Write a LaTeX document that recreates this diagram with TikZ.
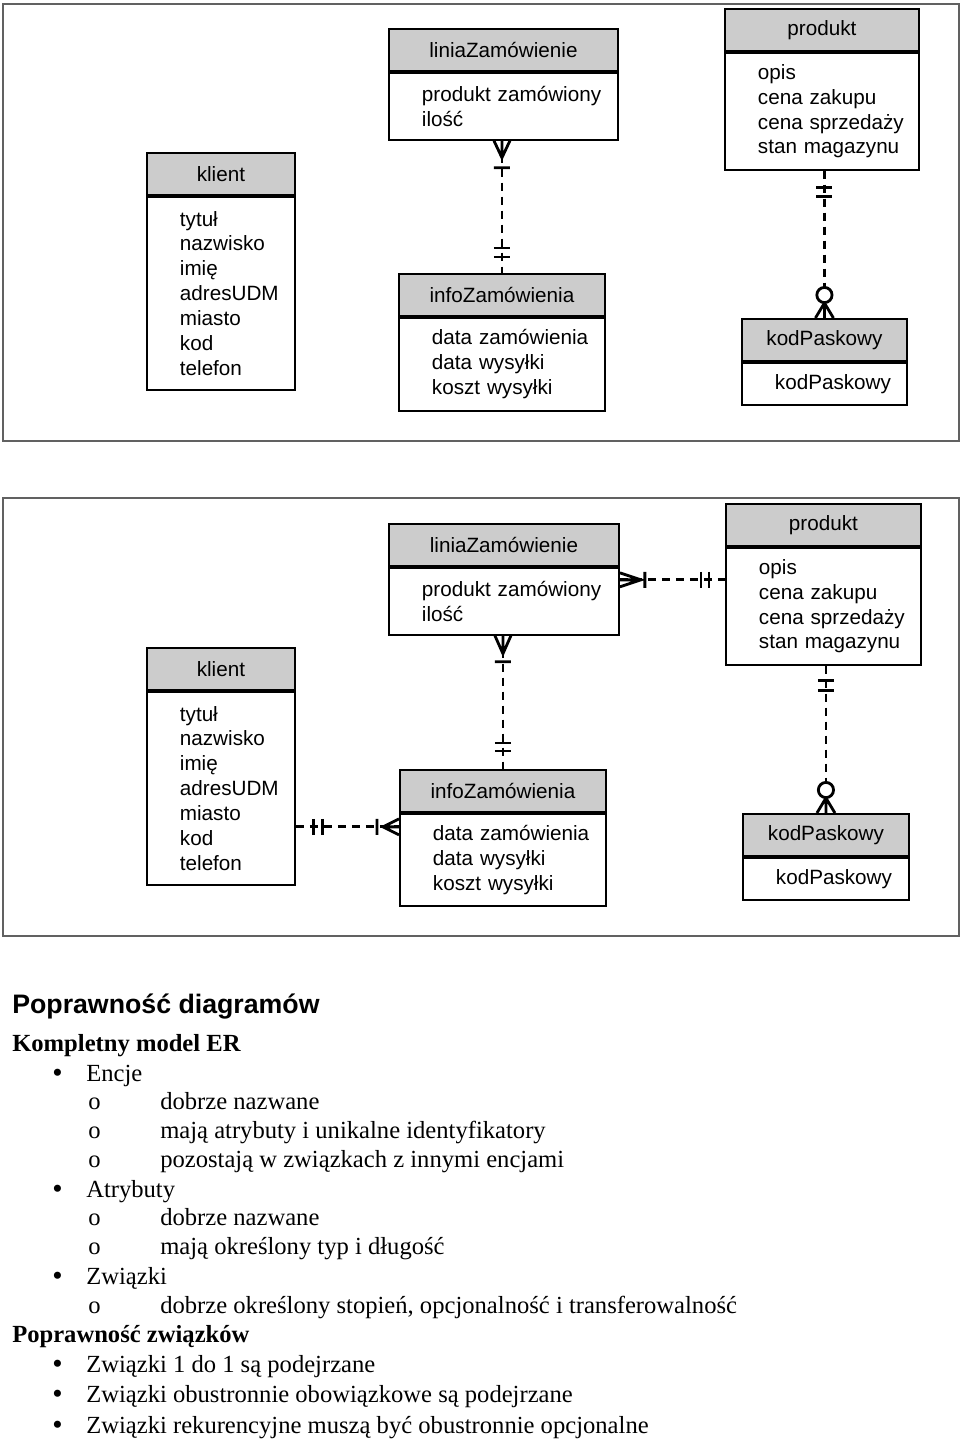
\documentclass[tikz,border=0pt]{standalone}
\usepackage{fontspec}
\setmainfont{Liberation Serif}
\setsansfont{Liberation Sans}
\usetikzlibrary{calc}

\definecolor{hdrgray}{gray}{0.8}
\definecolor{framegray}{gray}{0.38}
\newcommand{\entfont}{\sffamily\fontsize{14.7}{17.7}\selectfont\hyphenpenalty=10000 }
\newcommand{\listfont}{\fontsize{17.5}{21}\selectfont}

\tikzset{
  entityhead/.style={draw, line width=1.3pt, fill=hdrgray, anchor=north west, inner sep=0pt, minimum height=1.05cm, font=\entfont},
  entitybody/.style={draw, line width=1.3pt, anchor=north west, inner xsep=0.825cm, inner ysep=0pt, align=left, font=\entfont},
  relline/.style={line width=2pt, dash pattern=on 0.2cm off 0.15cm},
  relmark/.style={line width=2pt},
  framebox/.style={draw=framegray, line width=1.1pt},
  listtext/.style={anchor=base west, inner sep=0pt, font=\listfont},
  listbullet/.style={anchor=base west, inner sep=0pt, text height=0.45em, text depth=0pt, font=\fontsize{21}{21}\selectfont},
}

\begin{document}
\begin{tikzpicture}[x=0.025cm, y=-0.025cm]
\useasboundingbox (0,0) rectangle (960,1442);

% Frames
\draw[framebox] (3,4) rectangle (959,441);
\draw[framebox] (3,498) rectangle (959,936);

%%% Upper diagram

% Drawing entity klient
\node[entityhead, minimum width=3.7cm] (klient1-h) at (146,152) {klient};
\node[entitybody, text width=2.05cm, minimum height=4.825cm] (klient1-b) at (klient1-h.south west)
  {tytuł\\nazwisko\\imię\\adresUDM\\miasto\\kod\\telefon};

% Drawing entity liniaZamowienie
\node[entityhead, minimum width=5.725cm] (lini1-h) at (388,28) {liniaZamówienie};
\node[entitybody, text width=4.075cm, minimum height=1.675cm] (lini1-b) at (lini1-h.south west)
  {produkt~zamówiony\\ilość};

% Drawing entity infoZamowienia
\node[entityhead, minimum width=5.15cm] (info1-h) at (398,273) {infoZamówienia};
\node[entitybody, text width=3.5cm, minimum height=2.325cm] (info1-b) at (info1-h.south west)
  {data~zamówienia\\data~wysyłki\\koszt~wysyłki};

% Drawing entity produkt
\node[entityhead, minimum width=4.85cm] (prod1-h) at (724,8) {produkt};
\node[entitybody, text width=3.2cm, minimum height=2.925cm] (prod1-b) at (prod1-h.south west)
  {opis\\cena~zakupu\\cena~sprzedaży\\stan~magazynu};

% Drawing entity kodPaskowy
\node[entityhead, minimum width=4.125cm] (kod1-h) at (741,318) {kodPaskowy};
\node[entitybody, text width=2.475cm, minimum height=1.05cm] (kod1-b) at (kod1-h.south west)
  {kodPaskowy};

% Relationship liniaZamowienie - infoZamowienia
\draw[relline] (lini1-b.south -| info1-h.north) -- (info1-h.north);
\begin{scope}[shift={(lini1-b.south -| info1-h.north)}]
  \draw[relmark] (-8,0) -- (0,17) -- (8,0) (0,0) -- (0,17) (-8,27) -- (8,27);
\end{scope}
\begin{scope}[shift={(info1-h.north)}]
  \draw[relmark] (-8,-25) -- (8,-25) (-8,-16) -- (8,-16);
\end{scope}

% Relationship produkt - kodPaskowy
\draw[relline] (prod1-b.south -| kod1-h.north) -- (kod1-h.north);
\begin{scope}[shift={(prod1-b.south -| kod1-h.north)}]
  \draw[relmark] (-8,17) -- (8,17) (-8,26) -- (8,26);
\end{scope}
\begin{scope}[shift={(kod1-h.north)}]
  \draw[relmark] (-9,0) -- (0,-15) -- (9,0) (0,0) -- (0,-15);
  \draw[relmark, fill=white] (0,-23) circle (0.19cm);
\end{scope}

%%% Lower diagram

% Drawing entity klient
\node[entityhead, minimum width=3.7cm] (klient2-h) at (146,647) {klient};
\node[entitybody, text width=2.05cm, minimum height=4.825cm] (klient2-b) at (klient2-h.south west)
  {tytuł\\nazwisko\\imię\\adresUDM\\miasto\\kod\\telefon};

% Drawing entity liniaZamowienie
\node[entityhead, minimum width=5.75cm] (lini2-h) at (388,523) {liniaZamówienie};
\node[entitybody, text width=4.1cm, minimum height=1.675cm] (lini2-b) at (lini2-h.south west)
  {produkt~zamówiony\\ilość};

% Drawing entity infoZamowienia
\node[entityhead, minimum width=5.15cm] (info2-h) at (399,769) {infoZamówienia};
\node[entitybody, text width=3.5cm, minimum height=2.3cm] (info2-b) at (info2-h.south west)
  {data~zamówienia\\data~wysyłki\\koszt~wysyłki};

% Drawing entity produkt
\node[entityhead, minimum width=4.875cm] (prod2-h) at (725,503) {produkt};
\node[entitybody, text width=3.225cm, minimum height=2.925cm] (prod2-b) at (prod2-h.south west)
  {opis\\cena~zakupu\\cena~sprzedaży\\stan~magazynu};

% Drawing entity kodPaskowy
\node[entityhead, minimum width=4.15cm] (kod2-h) at (742,813) {kodPaskowy};
\node[entitybody, text width=2.5cm, minimum height=1.05cm] (kod2-b) at (kod2-h.south west)
  {kodPaskowy};

% Relationship liniaZamowienie - produkt
\coordinate (lp2) at ($(lini2-b.north east)+(0,13)$);
\draw[relline] (lp2) -- (lp2 -| prod2-b.west);
\begin{scope}[shift={(lp2)}]
  \draw[relmark] (0,-7) -- (21,0) -- (0,7) (0,0) -- (21,0) (25,-8) -- (25,8);
\end{scope}
\begin{scope}[shift={(lp2 -| prod2-b.west)}]
  \draw[relmark] (-24,-8) -- (-24,8) (-16,-8) -- (-16,8);
\end{scope}

% Relationship liniaZamowienie - infoZamowienia
\draw[relline] (lini2-b.south -| info2-h.north) -- (info2-h.north);
\begin{scope}[shift={(lini2-b.south -| info2-h.north)}]
  \draw[relmark] (-8,0) -- (0,18) -- (8,0) (0,0) -- (0,18) (-8,26) -- (8,26);
\end{scope}
\begin{scope}[shift={(info2-h.north)}]
  \draw[relmark] (-8,-26) -- (8,-26) (-8,-18) -- (8,-18);
\end{scope}

% Relationship klient - infoZamowienia
\coordinate (ki2) at ($(info2-b.north west)+(0,14)$);
\draw[relline] (ki2 -| klient2-b.east) -- (ki2);
\begin{scope}[shift={(ki2 -| klient2-b.east)}]
  \draw[relmark] (18,-8) -- (18,8) (27,-8) -- (27,8);
\end{scope}
\begin{scope}[shift={(ki2)}]
  \draw[relmark] (0,-8) -- (-16,0) -- (0,8) (0,0) -- (-16,0) (-22,-8) -- (-22,8);
\end{scope}

% Relationship produkt - kodPaskowy
\draw[relline] (prod2-b.south -| kod2-h.north) -- (kod2-h.north);
\begin{scope}[shift={(prod2-b.south -| kod2-h.north)}]
  \draw[relmark] (-8,15) -- (8,15) (-8,25) -- (8,25);
\end{scope}
\begin{scope}[shift={(kod2-h.north)}]
  \draw[relmark] (-9,0) -- (0,-15) -- (9,0) (0,0) -- (0,-15);
  \draw[relmark, fill=white] (0,-23) circle (0.19cm);
\end{scope}

%%% Text below

\node[listtext, font=\sffamily\bfseries\fontsize{19}{23}\selectfont] (title) at (12,1013) {Poprawność diagramów};
\node[listtext, font=\bfseries\listfont] (model) at (12,1051) {Kompletny model ER};

% Encje
\node[listbullet] (b-encje) at (52,1082) {•};
\node[listtext] (encje) at (86,1081) {Encje};
\node[listtext] (o-encje1) at (88,1109) {o};
\node[listtext] (encje1) at (160,1109) {dobrze nazwane};
\node[listtext] (o-encje2) at (88,1138) {o};
\node[listtext] (encje2) at (160,1138) {mają atrybuty i unikalne identyfikatory};
\node[listtext] (o-encje3) at (88,1167) {o};
\node[listtext] (encje3) at (160,1167) {pozostają w związkach z innymi encjami};

% Atrybuty
\node[listbullet] (b-atr) at (52,1198) {•};
\node[listtext] (atr) at (86,1197) {Atrybuty};
\node[listtext] (o-atr1) at (88,1225) {o};
\node[listtext] (atr1) at (160,1225) {dobrze nazwane};
\node[listtext] (o-atr2) at (88,1254) {o};
\node[listtext] (atr2) at (160,1254) {mają określony typ i długość};

% Zwiazki
\node[listbullet] (b-zw) at (52,1285) {•};
\node[listtext] (zw) at (86,1284) {Związki};
\node[listtext] (o-zw1) at (88,1313) {o};
\node[listtext] (zw1) at (160,1313) {dobrze określony stopień, opcjonalność i transferowalność};

% Poprawnosc zwiazkow
\node[listtext, font=\bfseries\listfont] (popr) at (12,1342) {Poprawność związków};
\node[listbullet] (b-p1) at (52,1373) {•};
\node[listtext] (p1) at (86,1372) {Związki 1 do 1 są podejrzane};
\node[listbullet] (b-p2) at (52,1403) {•};
\node[listtext] (p2) at (86,1402) {Związki obustronnie obowiązkowe są podejrzane};
\node[listbullet] (b-p3) at (52,1434) {•};
\node[listtext] (p3) at (86,1433) {Związki rekurencyjne muszą być obustronnie opcjonalne};
\end{tikzpicture}
\end{document}
